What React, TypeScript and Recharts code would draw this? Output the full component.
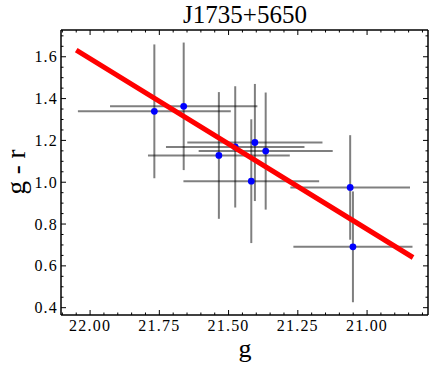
import React from "react";
import { ScatterChart, Scatter, XAxis, YAxis, ErrorBar } from "recharts";

// ---- data ----
const gMag = [21.768, 21.662, 21.535, 21.476, 21.405, 21.366, 21.418, 21.061, 21.051];
const grColor = [1.339, 1.363, 1.128, 1.169, 1.19, 1.149, 1.005, 0.975, 0.691];
const gErr = [0.276, 0.266, 0.256, 0.25, 0.244, 0.242, 0.245, 0.216, 0.215];
const grErr = [0.32, 0.305, 0.303, 0.29, 0.28, 0.28, 0.296, 0.25, 0.265];

const fitG = [22.05, 20.834];
const fitGR = [1.632, 0.64];

const xTicks = [22.1, 22.05, 22.0, 21.95, 21.9, 21.85, 21.8, 21.75, 21.7, 21.65, 21.6, 21.55, 21.5, 21.45, 21.4, 21.35, 21.3, 21.25, 21.2, 21.15, 21.1, 21.05, 21.0, 20.95, 20.9, 20.85, 20.8];
const yTicks = [0.4, 0.45, 0.5, 0.55, 0.6, 0.65, 0.7, 0.75, 0.8, 0.85, 0.9, 0.95, 1.0, 1.05, 1.1, 1.15, 1.2, 1.25, 1.3, 1.35, 1.4, 1.45, 1.5, 1.55, 1.6, 1.65, 1.7];

const xDomain = [20.78, 22.105];
const yDomain = [0.365, 1.728];

const points = gMag.map((g, i) => ({ g, gr: grColor[i], eg: gErr[i], egr: grErr[i] }));
const fitLine = fitG.map((g, i) => ({ g, gr: fitGR[i] }));

const FONT = "'Liberation Serif', 'Times New Roman', serif";
const W = 436;
const H = 370;

const isMajorX = (v: number) => Math.abs(v * 4 - Math.round(v * 4)) < 1e-6;
const isMajorY = (v: number) => Math.abs(v * 5 - Math.round(v * 5)) < 1e-6;

const makeXTick = (side: "bottom" | "top") => (props: any) => {
  const { x, y, payload } = props;
  const v = payload.value as number;
  const major = isMajorX(v);
  const len = major ? 5 : 2.5;
  const dir = side === "bottom" ? -1 : 1;
  return (
    <g>
      <line x1={x} x2={x} y1={y} y2={y + dir * len} stroke="#000" strokeWidth={1} />
      {side === "bottom" && major && (
        <text x={x} y={y + 15.5} textAnchor="middle" fontFamily={FONT} fontSize={16} letterSpacing={1.2} fill="#000">
          {v.toFixed(2)}
        </text>
      )}
    </g>
  );
};

const makeYTick = (side: "left" | "right") => (props: any) => {
  const { x, y, payload } = props;
  const v = payload.value as number;
  const major = isMajorY(v);
  const len = major ? 5 : 2.5;
  const dir = side === "left" ? 1 : -1;
  return (
    <g>
      <line x1={x} x2={x + dir * len} y1={y} y2={y} stroke="#000" strokeWidth={1} />
      {side === "left" && major && (
        <text x={x - 3} y={y + 5.5} textAnchor="end" fontFamily={FONT} fontSize={16} letterSpacing={1.2} fill="#000">
          {v.toFixed(1)}
        </text>
      )}
    </g>
  );
};

const noShape = () => <g />;

export default function App() {
  return (
    <div style={{ position: "absolute", left: 0, top: 0, width: W, height: H, background: "#fff" }}>
      <ScatterChart width={W} height={H} margin={{ top: 20, right: 7, bottom: 25, left: 21 }}>
        <XAxis
          xAxisId="b"
          dataKey="g"
          type="number"
          orientation="bottom"
          reversed
          domain={xDomain}
          allowDataOverflow
          ticks={xTicks}
          interval={0}
          tickSize={0}
          tickMargin={0}
          tickLine={false}
          height={30}
          axisLine={{ stroke: "#000", strokeWidth: 1.5 }}
          tick={makeXTick("bottom")}
        />
        <XAxis
          xAxisId="t"
          dataKey="g"
          type="number"
          orientation="top"
          reversed
          domain={xDomain}
          allowDataOverflow
          ticks={xTicks}
          interval={0}
          tickSize={0}
          tickMargin={0}
          tickLine={false}
          height={10}
          axisLine={{ stroke: "#000", strokeWidth: 1.5 }}
          tick={makeXTick("top")}
        />
        <YAxis
          yAxisId="l"
          dataKey="gr"
          type="number"
          orientation="left"
          domain={yDomain}
          allowDataOverflow
          ticks={yTicks}
          interval={0}
          tickSize={0}
          tickMargin={0}
          tickLine={false}
          width={40}
          axisLine={{ stroke: "#000", strokeWidth: 1.5 }}
          tick={makeYTick("left")}
        />
        <YAxis
          yAxisId="r"
          dataKey="gr"
          type="number"
          orientation="right"
          domain={yDomain}
          allowDataOverflow
          ticks={yTicks}
          interval={0}
          tickSize={0}
          tickMargin={0}
          tickLine={false}
          width={1}
          axisLine={{ stroke: "#000", strokeWidth: 1.5 }}
          tick={makeYTick("right")}
        />
        <Scatter
          xAxisId="b"
          yAxisId="l"
          data={points}
          dataKey="gr"
          fill="#0000ff"
          isAnimationActive={false}
          shape={(p: any) => <circle cx={p.cx} cy={p.cy} r={3.4} fill="#0000ff" />}
        >
          <ErrorBar dataKey="eg" direction="x" width={0} stroke="rgba(0,0,0,0.5)" strokeWidth={2} isAnimationActive={false} />
          <ErrorBar dataKey="egr" direction="y" width={0} stroke="rgba(0,0,0,0.5)" strokeWidth={2} isAnimationActive={false} />
        </Scatter>
        <Scatter
          xAxisId="b"
          yAxisId="l"
          data={fitLine}
          dataKey="gr"
          line={{ stroke: "#ff0000", strokeWidth: 5 }}
          lineType="joint"
          shape={noShape}
          isAnimationActive={false}
        />
      </ScatterChart>
      <svg width={W} height={H} style={{ position: "absolute", left: 0, top: 0, pointerEvents: "none" }}>
        <text x={245} y={23} textAnchor="middle" fontFamily={FONT} fontSize={25} fill="#000">
          J1735+5650
        </text>
        <text x={245} y={357} textAnchor="middle" fontFamily={FONT} fontSize={26} fill="#000">
          g
        </text>
        <text x={25} y={172} textAnchor="middle" fontFamily={FONT} fontSize={27} fill="#000" transform="rotate(-90 25 172)">
          g - r
        </text>
      </svg>
    </div>
  );
}
